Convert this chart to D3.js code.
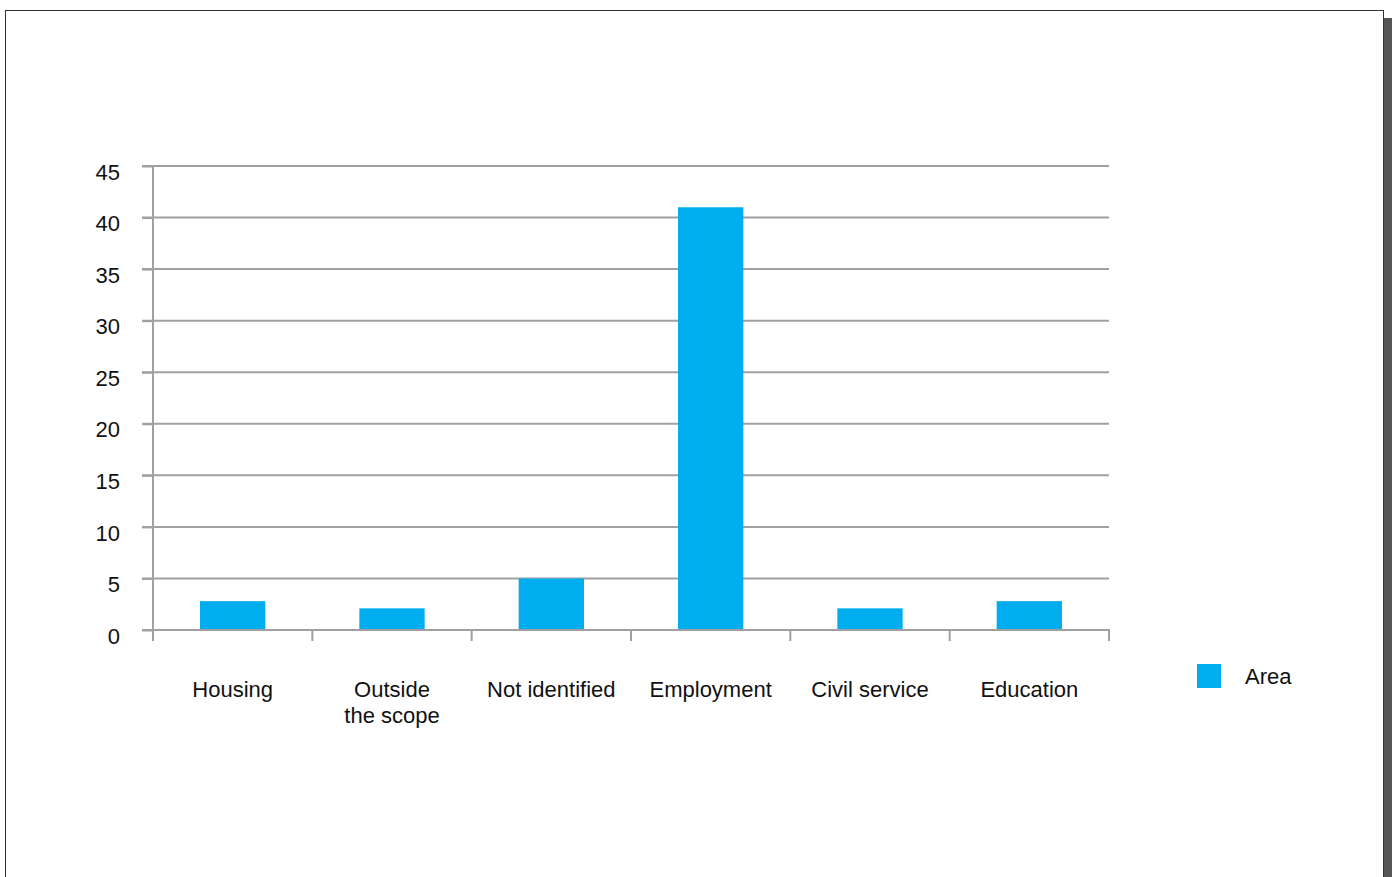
<!DOCTYPE html>
<html><head><meta charset="utf-8">
<script src="https://cdn.jsdelivr.net/npm/d3@7"></script>
<style>
html,body{margin:0;padding:0;background:#fff;}
svg{display:block;}
text{font-family:"Liberation Sans",Arial,sans-serif;fill:#111;}
</style></head>
<body>
<svg id="chart" width="1397" height="877"></svg>
<script>
const categories = ["Housing", "Outside\nthe scope", "Not identified", "Employment", "Civil service", "Education"];
const values = [2.8, 2.1, 5, 41, 2.1, 2.8];
const yTicks = [0, 5, 10, 15, 20, 25, 30, 35, 40, 45];
const seriesName = "Area";

(function () {
const svg = d3.select("#chart");
const fs = 22;
// frame + shadow
svg.append("rect").attr("x", 1384).attr("y", 18).attr("width", 8).attr("height", 877).attr("fill", "#555");
svg.append("rect").attr("x", 5.5).attr("y", 10.5).attr("width", 1378).attr("height", 880)
  .attr("fill", "#fff").attr("stroke", "#333").attr("stroke-width", 1);

const pLeft = 153, pRight = 1109, pTop = 166, pBottom = 630;
const x = d3.scaleBand().domain(categories).range([pLeft, pRight]).paddingInner(0.59).paddingOuter(0.295);
const xTicks = d3.scaleBand().domain(categories).range([pLeft, pRight]);
const y = d3.scaleLinear().domain([0, 45]).range([pBottom, pTop]);
const grid = "#a0a0a0";

// gridlines
svg.append("g").selectAll("line").data(yTicks.filter(d => d > 0)).join("line")
  .attr("x1", pLeft - 11).attr("x2", pRight).attr("y1", d => y(d)).attr("y2", d => y(d))
  .attr("stroke", grid).attr("stroke-width", 2);

// y axis labels
const ya = svg.append("g").attr("transform", `translate(${pLeft},0)`)
  .call(d3.axisLeft(y).tickValues(yTicks).tickSize(11).tickPadding(22));
ya.select(".domain").remove();
ya.selectAll("line").attr("stroke", grid).attr("stroke-width", 2);
ya.selectAll("text").attr("font-size", fs).attr("dy", "0.6em").attr("fill", "#111")
  .style("font-family", '"Liberation Sans",Arial,sans-serif');

// bars
svg.append("g").selectAll("rect").data(values).join("rect")
  .attr("x", (d, i) => x(categories[i])).attr("width", x.bandwidth())
  .attr("y", d => y(d)).attr("height", d => y(0) - y(d)).attr("fill", "#00adef");

// axes lines
svg.append("line").attr("x1", pLeft).attr("x2", pLeft).attr("y1", pTop).attr("y2", pBottom + 11)
  .attr("stroke", grid).attr("stroke-width", 2);
svg.append("line").attr("x1", pLeft - 11).attr("x2", pRight + 1).attr("y1", pBottom).attr("y2", pBottom)
  .attr("stroke", grid).attr("stroke-width", 2);
const tickPos = categories.map(c => xTicks(c)).concat([pRight]);
svg.append("g").selectAll("line").data(tickPos).join("line")
  .attr("x1", d => d).attr("x2", d => d).attr("y1", pBottom).attr("y2", pBottom + 11)
  .attr("stroke", grid).attr("stroke-width", 2);

// x labels
const xl = svg.append("g").selectAll("text").data(categories).join("text")
  .attr("x", c => xTicks(c) + xTicks.bandwidth() / 2).attr("y", 697)
  .attr("text-anchor", "middle").attr("font-size", fs);
xl.each(function(c) {
  const t = d3.select(this);
  c.split("\n").forEach((line, i) => {
    t.append("tspan").attr("x", t.attr("x")).attr("dy", i === 0 ? 0 : 26).text(line);
  });
});

// legend
svg.append("rect").attr("x", 1197).attr("y", 664).attr("width", 24).attr("height", 24).attr("fill", "#00adef");
svg.append("text").attr("x", 1245).attr("y", 684).attr("font-size", fs).text(seriesName);
})();
</script>
</body></html>
